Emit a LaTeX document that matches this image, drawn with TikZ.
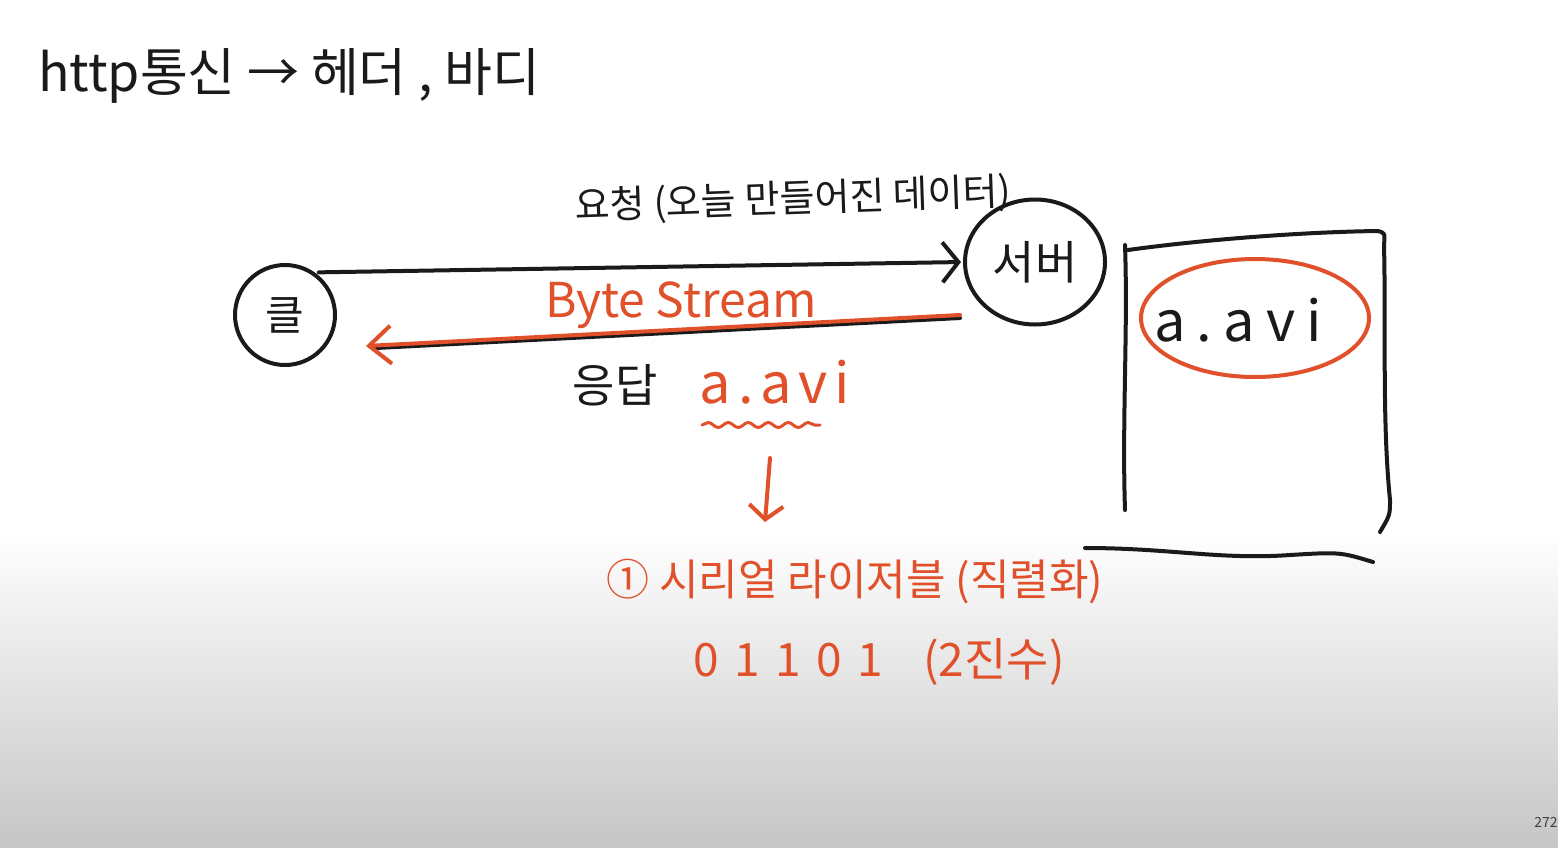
\documentclass[tikz,border=0pt]{standalone}
\usepackage{fontspec}
\setmainfont{Noto Sans CJK KR}
\usetikzlibrary{arrows.meta,shapes.geometric,decorations.pathmorphing}
\definecolor{ink}{HTML}{1A1A1A}
\definecolor{pen}{HTML}{E0502A}
\definecolor{bgbot}{HTML}{C6C6C6}
\begin{document}
\begin{tikzpicture}[x=1pt,y=-1pt,
  inkline/.style={draw=ink,line width=4pt,line cap=round,line join=round},
  penline/.style={draw=pen,line width=4pt,line cap=round,line join=round},
  inktext/.style={text=ink,inner sep=0pt},
  pentext/.style={text=pen,inner sep=0pt},
  barb/.style={-{Straight Barb[length=16pt,width=40pt,line width=4pt]}}]
\fill[white] (0,0) rectangle (1558,530);
\shade[top color=white,bottom color=bgbot] (0,530) rectangle (1558,847);
\useasboundingbox (0,0) rectangle (1558,847);

% title
\node[inktext,anchor=west,font=\fontsize{52}{60}\selectfont] (title) at (38,76) {http통신 → 헤더 , 바디};

% client and server
\node[circle,inkline,minimum size=100pt,inner sep=0pt,font=\fontsize{42}{46}\selectfont,text=ink] (cl) at (285,315) {클};
\node[ellipse,inkline,minimum width=140pt,minimum height=125pt,inner sep=0pt,font=\fontsize{46}{50}\selectfont,text=ink] (sv) at (1035,262) {서버};

% request
\draw[inkline,barb,shorten <=4pt,shorten >=2pt] (cl.55) -- (sv.west);
\node[inktext,font=\fontsize{38}{42}\selectfont,rotate=2] (req) at (793,200) {요청 (오늘 만들어진 데이터)};

% response
\coordinate (rs) at (960,318);
\coordinate (re) at (366,346);
\draw[inkline] (rs) -- ([xshift=10pt,yshift=-2pt]re);
\draw[penline,-{Straight Barb[length=22pt,width=38pt,line width=4pt]}] ([yshift=3pt]rs) -- (re);
\node[pentext,font=\fontsize{48}{52}\selectfont] (bs) at (681,305) {Byte Stream};
\node[inktext,font=\fontsize{46}{50}\selectfont] (resp) at (615,385) {응답};
\node[pentext,font=\fontsize{56}{60}\selectfont] (file) at (775,382) {\addfontfeatures{LetterSpace=12}a.avi};
\draw[penline,line width=3pt,decorate,decoration={snake,amplitude=2.5pt,segment length=20pt}] (702,425) -- (820,425);

% serialization
\node[pentext,font=\fontsize{43}{47}\selectfont] (ser) at (855,582) {① 시리얼 라이저블 (직렬화)};
\draw[penline,-{Straight Barb[length=14pt,width=34pt,line width=4pt]}] (770,458) -- (765,522);
\node[pentext,anchor=west,font=\fontsize{46}{50}\selectfont] (bin) at (693,662) {{\addfontfeatures{LetterSpace=34}01101}\hspace{40pt}(2진수)};

% storage box
\draw[inkline] (1125,510) .. controls (1122,420) and (1128,330) .. (1125,245);
\draw[inkline] (1128,250) .. controls (1200,240) and (1300,232) .. (1378,231) .. controls (1385,233) .. (1384,245);
\draw[inkline] (1384,245) .. controls (1386,330) and (1382,420) .. (1390,500) .. controls (1390,515) .. (1380,532);
\draw[inkline] (1085,548) .. controls (1170,548) and (1220,560) .. (1290,555) .. controls (1340,552) .. (1373,562);
\node[ellipse,penline,minimum width=228pt,minimum height=118pt,inner sep=0pt] (fe) at (1255,318) {};
\node[inktext,font=\fontsize{56}{60}\selectfont] (fl) at (1238,320) {\addfontfeatures{LetterSpace=20}a.avi};

% page number
\node[text=black!75,font=\fontsize{14}{16}\selectfont,inner sep=0pt] (pg) at (1546,822) {272};
\end{tikzpicture}
\end{document}
